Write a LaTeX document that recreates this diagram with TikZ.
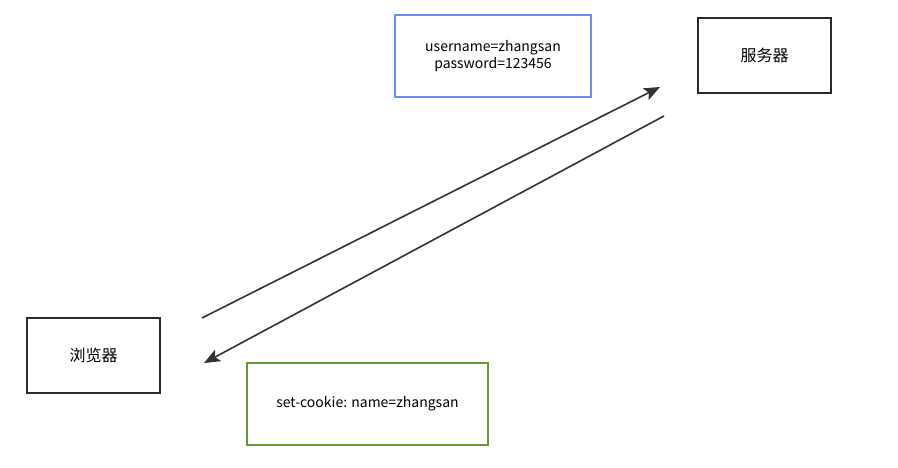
\documentclass[tikz,border=0pt]{standalone}
\usepackage{fontspec}
\setmainfont{Noto Sans CJK SC}
\usetikzlibrary{arrows.meta}
\definecolor{boxblue}{RGB}{108,142,240}
\definecolor{boxgreen}{RGB}{98,154,58}
\definecolor{boxdark}{RGB}{40,44,48}
\definecolor{arrowdark}{RGB}{51,51,51}
\begin{document}
\begin{tikzpicture}[x=1pt,y=-1pt,
		party/.style={draw=boxdark,line width=1.7pt,minimum width=133pt,minimum height=75pt,font=\fontsize{16}{19}\selectfont},
		msg/.style={line width=1.7pt,minimum height=82pt,align=center,font=\fontsize{14}{17}\selectfont},
		flow/.style={-{Stealth[length=16pt,width=13pt,inset=3.5pt]},line width=1.6pt,draw=arrowdark}]
		\useasboundingbox (0,0) rectangle (898,468);
		\node[party] (server) at (764.5,55.5) {服务器};
		\node[party] (browser) at (93.5,355.5) {浏览器};
		\node[msg,draw=boxblue,minimum width=196pt] (login) at (493,56) {username=zhangsan\\password=123456};
		\node[msg,draw=boxgreen,minimum width=241pt] (cookie) at (367.5,404) {set-cookie: name=zhangsan};
		\coordinate (reqA) at (202,318);
		\coordinate (reqB) at (660,87);
		\coordinate (resA) at (664,116);
		\coordinate (resB) at (204,363);
		\draw[flow] (reqA) -- (reqB);
		\draw[flow] (resA) -- (resB);
	\end{tikzpicture}
\end{document}
